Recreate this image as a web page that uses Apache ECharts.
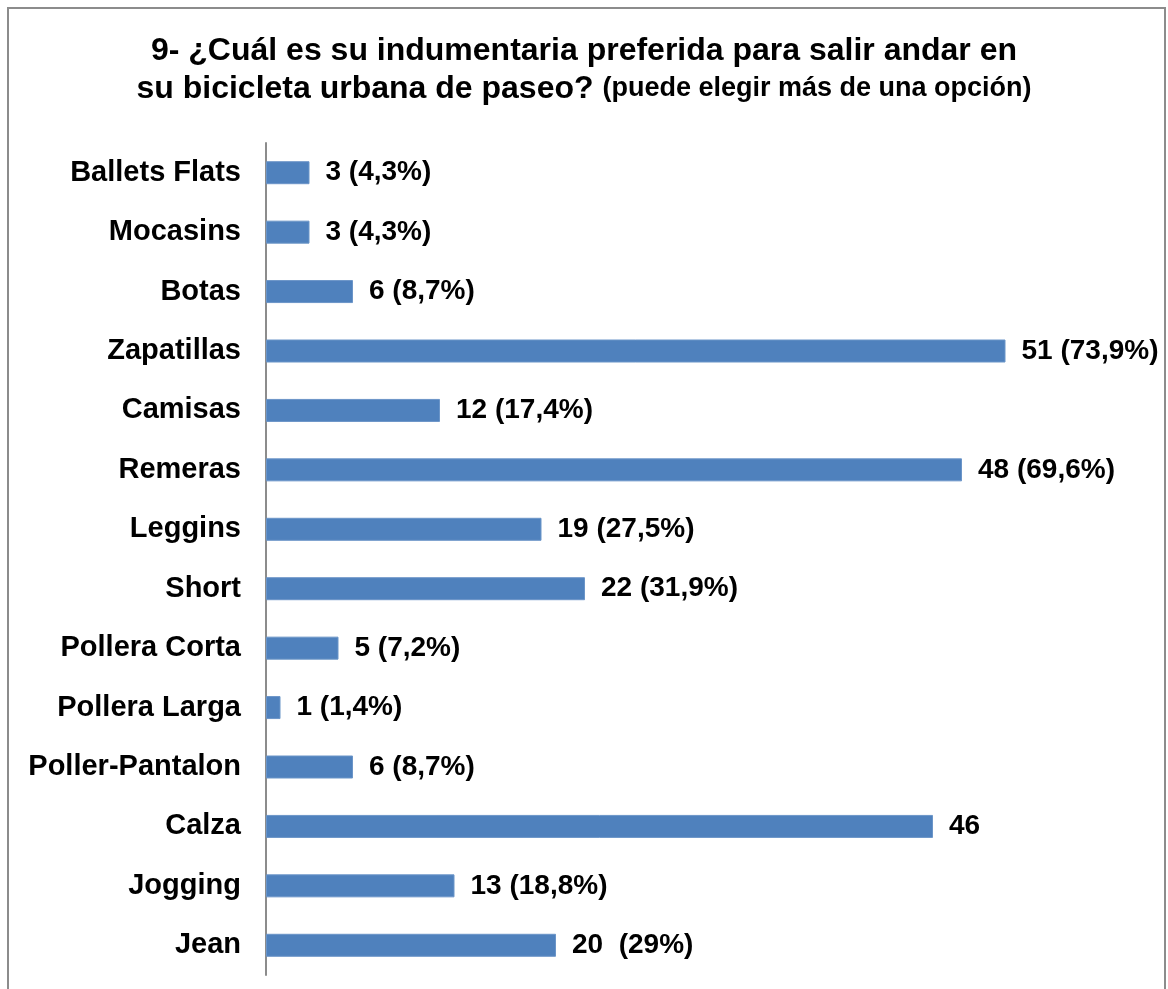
<!DOCTYPE html>
<html>
<head>
<meta charset="utf-8">
<script src="https://cdn.jsdelivr.net/npm/echarts@6/dist/echarts.min.js"></script>
<style>
  html, body { margin: 0; padding: 0; background: #fff; }
  #chart { width: 1168px; height: 989px; }
</style>
</head>
<body>
<div id="chart"></div>
<script>
const categories = ['Ballets Flats', 'Mocasins', 'Botas', 'Zapatillas', 'Camisas', 'Remeras', 'Leggins',
  'Short', 'Pollera Corta', 'Pollera Larga', 'Poller-Pantalon', 'Calza', 'Jogging', 'Jean']
const counts = [3, 3, 6, 51, 12, 48, 19, 22, 5, 1, 6, 46, 13, 20]
const labels = ['3 (4,3%)', '3 (4,3%)', '6 (8,7%)', '51 (73,9%)', '12 (17,4%)', '48 (69,6%)', '19 (27,5%)',
  '22 (31,9%)', '5 (7,2%)', '1 (1,4%)', '6 (8,7%)', '46', '13 (18,8%)', '20  (29%)']

const font = 'Liberation Sans, Arial, sans-serif'
const chart = echarts.init(document.getElementById('chart'))
chart.setOption({
  animation: false,
  title: {
    left: 'center',
    top: 27,
    text: '{a|9- ¿Cuál es su indumentaria preferida para salir andar en}\n{a|su bicicleta urbana de paseo? }{b|(puede elegir más de una opción)}',
    textStyle: {
      rich: {
        a: { fontFamily: font, fontWeight: 'bold', fontSize: 32, color: '#000', lineHeight: 38 },
        b: { fontFamily: font, fontWeight: 'bold', fontSize: 27, color: '#000', lineHeight: 38 }
      }
    }
  },
  graphic: [{
    type: 'rect',
    shape: { x: 8, y: 8, width: 1157, height: 1000 },
    style: { fill: 'none', stroke: '#8c8c8c', lineWidth: 2 },
    silent: true
  }],
  grid: {
    left: 266,
    right: 32,
    top: 143,
    bottom: 14
  },
  xAxis: {
    type: 'value',
    min: 0,
    max: 60,
    show: false
  },
  yAxis: {
    type: 'category',
    inverse: true,
    data: categories,
    axisLine: { show: true, lineStyle: { color: '#8c8c8c', width: 2 } },
    axisTick: { show: false },
    axisLabel: {
      color: '#000',
      fontFamily: font,
      fontWeight: 'bold',
      fontSize: 29,
      margin: 25
    }
  },
  series: [{
    type: 'bar',
    data: counts,
    barWidth: 23,
    itemStyle: {
      color: '#4f81bd',
      borderColor: '#6b95c8',
      borderWidth: 1
    },
    label: {
      show: true,
      position: 'right',
      distance: 16,
      color: '#000',
      fontFamily: font,
      fontWeight: 'bold',
      fontSize: 28,
      formatter: (p) => labels[p.dataIndex]
    }
  }]
})
</script>
</body>
</html>
